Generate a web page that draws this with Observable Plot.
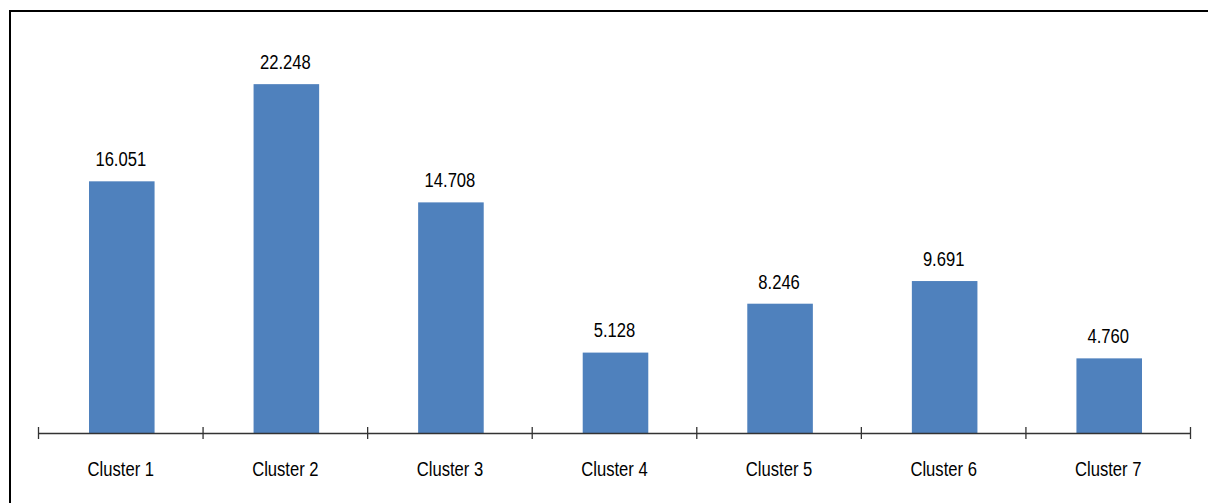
<!DOCTYPE html>
<html>
<head>
<meta charset="utf-8">
<script src="https://cdn.jsdelivr.net/npm/d3@7"></script>
<script src="https://cdn.jsdelivr.net/npm/@observablehq/plot@0.6"></script>
<style>
  html, body { margin: 0; padding: 0; background: #fff; overflow: hidden; }
  #wrap { position: relative; width: 1208px; height: 503px; }
  #frame { position: absolute; left: 9px; top: 10px; width: 1300px; height: 600px;
           border-left: 2px solid #000; border-top: 2px solid #000; box-sizing: border-box; }
  #chart { position: absolute; left: 0; top: 0; }
</style>
</head>
<body>
<div id="wrap"><div id="frame"></div><div id="chart"></div></div>
<script>
const categories = ["Cluster 1", "Cluster 2", "Cluster 3", "Cluster 4", "Cluster 5", "Cluster 6", "Cluster 7"];
const values = [16.051, 22.248, 14.708, 5.128, 8.246, 9.691, 4.760];

const data = categories.map((c, i) => ({ name: c, i, value: values[i] }));
const boundaries = d3.range(categories.length + 1);

const W = 1208, H = 503;
const mTop = 41, mBottom = 70, mLeft = 38, mRight = 18;
const plotH = H - mTop - mBottom;
const fmt = d3.format(".3f");
const font = "'Liberation Sans', Arial, sans-serif";
const narrow = 0.83; // emulate an Arial Narrow look

const chart = Plot.plot({
  width: W,
  height: H,
  marginTop: mTop,
  marginBottom: mBottom,
  marginLeft: mLeft,
  marginRight: mRight,
  style: { fontFamily: font, background: "transparent" },
  x: { type: "linear", domain: [0, categories.length], axis: null },
  y: { domain: [0, 25], axis: null },
  marks: [
    Plot.rectY(data, { x1: d => d.i, x2: d => d.i + 1, y1: 0, y2: "value", fill: "#4F81BD", insetLeft: 51, insetRight: 48 }),
    Plot.ruleY([0], { stroke: "#333", strokeWidth: 1.3 }),
    Plot.ruleX(boundaries, { x: d => d, stroke: "#333", strokeWidth: 1.3, insetTop: plotH - 12, dy: 6 }),
    Plot.text(data, { x: d => d.i + 0.5, y: "value", text: d => fmt(d.value), dy: -22, fontSize: 20, fill: "#000" }),
    Plot.text(data, { x: d => d.i + 0.5, y: 0, text: "name", dy: 36, fontSize: 20, fill: "#000" })
  ]
});
document.getElementById("chart").appendChild(chart);
chart.querySelectorAll("text").forEach(t => {
  const len = t.getComputedTextLength();
  if (len > 0) {
    t.setAttribute("textLength", (len * narrow).toFixed(2));
    t.setAttribute("lengthAdjust", "spacingAndGlyphs");
  }
});
</script>
</body>
</html>
